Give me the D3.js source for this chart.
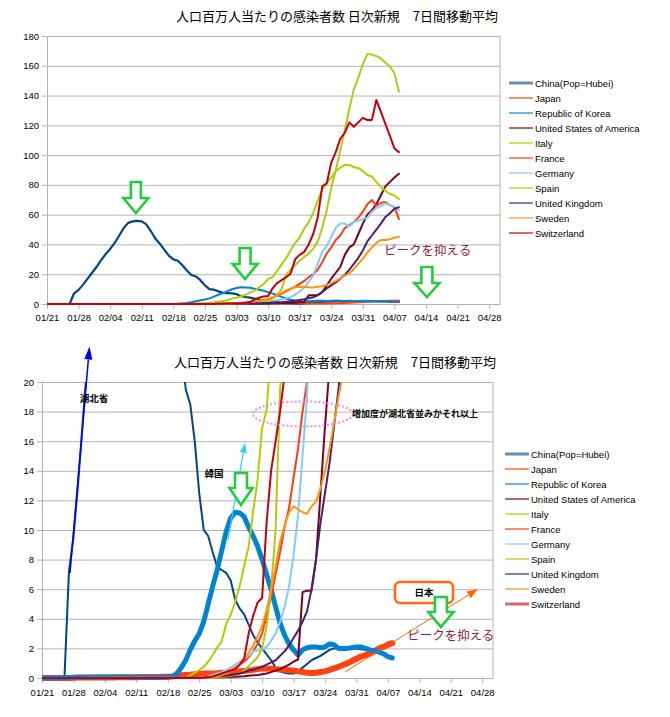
<!DOCTYPE html>
<html><head><meta charset="utf-8">
<script src="https://cdn.jsdelivr.net/npm/d3@7"></script>
<style>body{margin:0;background:#fff}svg{display:block}</style>
</head><body>
<svg id="c" width="670" height="717"></svg>
<script>
// ---------- DATA (day index 0 = 01/21 ... 78 = 04/08) ----------
const seriesNames = ["China(Pop=Hubei)","Japan","Republic of Korea","United States of America","Italy","France","Germany","Spain","United Kingdom","Sweden","Switzerland"];
const seriesColors = ["#004586","#ff420e","#0084d1","#7e0021","#aecf00","#ff3c0a","#83caff","#b4c814","#4b1f6f","#ff950e","#c5000b"];

const china = [0,0,0,0,0,0,7.2,9.5,13,17,
 21,25,29.5,33.5,37,41,46,51,54.5,55.5,
 55.8,55.5,53.5,49,44,40.5,36.5,32.5,30,29,
 26,22.5,19.5,18.5,16,12.5,10,9.6,8.5,7.5,
 7.3,7.1,6.6,5.3,4.7,4.3,3.6,2.9,2.4,2.0,
 1.6,1.2,0.7,0.45,0.35,0.3,0.3,0.45,0.7,0.95,
 1.2,1.35,1.5,1.7,1.9,2.0,2.0,2.05,2.0,2.0,
 2.0,1.95,1.9,1.85,1.8,1.7,1.6,1.5,1.45];
const japan = [0,0,0,0,0,0,0,0.02,0.03,0.03,
 0.03,0.03,0.03,0.03,0.03,0.04,0.04,0.05,0.05,0.05,
 0.05,0.05,0.06,0.06,0.06,0.07,0.07,0.08,0.08,0.1,
 0.15,0.18,0.2,0.22,0.25,0.28,0.3,0.3,0.3,0.32,
 0.35,0.38,0.4,0.42,0.45,0.48,0.5,0.55,0.6,0.65,
 0.65,0.62,0.6,0.58,0.55,0.53,0.5,0.45,0.4,0.35,
 0.34,0.35,0.4,0.45,0.55,0.65,0.75,0.88,1.0,1.15,
 1.3,1.45,1.55,1.65,1.8,2.0,2.1,2.25,2.35];
const korea = [0,0,0,0,0.02,0.03,0.03,0.04,0.05,0.05,
 0.05,0.05,0.05,0.06,0.06,0.06,0.06,0.06,0.06,0.06,
 0.05,0.05,0.05,0.04,0.04,0.04,0.04,0.05,0.06,0.1,
 0.3,0.7,1.2,1.9,2.5,3.0,3.8,5.0,6.2,7.3,
 8.6,9.9,10.8,11.2,11.15,10.9,10.2,9.6,8.9,8.0,
 7.0,6.0,4.8,3.7,2.9,2.3,1.9,1.55,1.9,2.05,
 2.1,2.1,2.05,2.1,2.3,2.25,2.0,2.0,2.0,2.05,
 2.1,2.1,2.0,1.9,1.85,1.75,1.65,1.45,1.35];
const usa = [0,0,0,0,0,0,0,0,0,0,
 0,0,0,0,0,0,0,0,0,0,
 0,0,0,0,0,0,0,0,0,0,
 0,0,0,0,0,0,0,0.01,0.02,0.03,
 0.04,0.05,0.06,0.08,0.1,0.12,0.15,0.18,0.2,0.25,
 0.3,0.4,0.5,0.6,0.75,0.9,1.1,1.25,5.8,5.9,
 5.9,8.0,12.5,17,21,25,33,38,40,47,
 54,60,63,67,73,79,82,85,87.5];
const italy = [0,0,0,0,0,0,0,0,0,0,
 0,0,0,0,0,0,0,0,0,0,
 0,0,0,0,0,0,0,0,0,0,
 0,0,0.04,0.18,0.36,0.53,0.76,1.1,1.54,2.06,
 2.48,3.64,4.27,5.15,6.19,7.58,8.86,11.25,13.4,16.9,
 18.1,22.2,26.6,30.8,36.1,41.1,44.5,50.5,55,61.3,
 69.4,76.7,81.3,85,89.1,91.5,93.6,93.4,92,91.2,
 89.4,86.6,85.6,82,78.8,76.1,73.9,72.9,70.5];
const france = [0,0,0,0,0,0,0,0,0,0,
 0,0,0,0,0.01,0.01,0.01,0.01,0.01,0.01,
 0.01,0.01,0.01,0.01,0.01,0.01,0.01,0.01,0.01,0.01,
 0.01,0.01,0.01,0.01,0.02,0.03,0.05,0.1,0.15,0.2,
 0.3,0.4,0.55,0.7,0.9,1.1,1.4,1.8,2.3,3.0,
 4.2,5.5,7.0,8.5,10.2,11.5,13.5,15.5,18,20,
 23,28,34,38,43,46,51,53,55,58,
 62,67,69.8,66,68,68.5,66.5,65,57];
const germany = [0,0,0,0,0,0,0,0,0,0,
 0,0.01,0.01,0.01,0.01,0.01,0.01,0.01,0.01,0.01,
 0.01,0.01,0.01,0.01,0.01,0.01,0.01,0.01,0.01,0.01,
 0.01,0.01,0.01,0.01,0.01,0.02,0.05,0.1,0.2,0.3,
 0.4,0.55,0.7,0.9,1.1,1.3,1.5,1.8,1.85,1.9,
 2.1,2.5,3.0,3.8,4.8,6.2,8.3,11,15,19,
 27,35,39,45,51,54,54,52,55,56,
 57,58,62,64.5,66,67.5,66.5,65,63];
const spain = [0,0,0,0,0,0,0,0,0,0,
 0,0,0,0,0,0,0,0,0,0,
 0,0,0,0,0,0,0,0,0,0,
 0,0,0,0,0,0,0,0,0.01,0.02,
 0.05,0.1,0.15,0.2,0.3,0.5,0.8,1.1,1.4,2.0,
 3.5,6.0,10.0,19.5,23,26,29,31.5,34,37,
 42,51,63,78,90,103,117,131,144,152,
 161,168,167.5,166.5,165,162,159.5,155,142.5];
const uk = [0,0,0,0,0,0,0,0,0,0,
 0,0,0,0,0,0,0,0,0,0,
 0,0,0,0,0,0,0,0,0,0.01,
 0.01,0.01,0.01,0.01,0.01,0.02,0.03,0.05,0.07,0.1,
 0.12,0.15,0.2,0.25,0.3,0.4,0.5,0.55,0.65,0.75,
 0.9,1.05,1.2,1.5,1.8,2.2,2.7,3.2,3.8,4.5,
 6,8,10.5,12.5,14.5,17,19.5,23,27,31,
 36,42,46,50,54,58.5,61,64,65];
const sweden = [0,0,0,0,0,0,0,0,0,0,
 0,0,0,0,0,0,0,0,0,0,
 0,0,0,0,0,0,0,0,0,0,
 0,0,0,0,0,0,0.01,0.02,0.05,0.1,
 0.2,0.3,0.5,0.7,0.9,1.3,1.7,2.2,2.8,3.5,
 4.6,6,7.5,9.2,10.3,11.2,11.6,11.4,11.2,11.1,
 11.6,11.9,12.8,14,15.5,17.2,19,20.5,23.5,27,
 30.5,34.5,38,41,43,43,43.5,44.5,45.2];
const switzerland = [0,0,0,0,0,0,0,0,0,0,
 0,0,0,0,0,0,0,0,0,0,
 0,0,0,0,0,0,0,0,0,0,
 0,0,0,0,0,0,0.02,0.05,0.1,0.2,
 0.3,0.4,0.5,0.6,0.9,1.3,3.0,4.2,5.1,5.4,
 10.5,14,16,18,20.5,30,33,35,40,47,
 58,79,81,95,102,111,115,122,119,122,
 125,123.5,123.5,137,129,121,113,104.5,102];

const seriesValues = [china,japan,korea,usa,italy,france,germany,spain,uk,sweden,switzerland];

const xTickLabels = ["01/21","01/28","02/04","02/11","02/18","02/25","03/03","03/10","03/17","03/24","03/31","04/07","04/14","04/21","04/28"];
const xTickDays = [0,7,14,21,28,35,42,49,56,63,70,77,84,91,98];
const yTicksTop = [0,20,40,60,80,100,120,140,160,180];
const yTicksBottom = [0,2,4,6,8,10,12,14,16,18,20];
const chartTitle = "人口百万人当たりの感染者数 日次新規　7日間移動平均";
const xMaxDay = 100.4;

// ---------- DRAWING ----------
const svg = d3.select("#c");
const LF = "'Liberation Sans', Arial, sans-serif";
const JF = "'Noto Sans CJK JP', sans-serif";
const GRID = "#b3b3b3";

function panel(o){
  const x = d3.scaleLinear().domain([0, xMaxDay]).range([o.left, o.right]);
  const y = d3.scaleLinear().domain([0, o.yMax]).range([o.bottom, o.top]);
  const g = svg.append("g");

  g.append("text").attr("x", o.titleX).attr("y", o.titleY).attr("text-anchor","middle")
    .attr("font-family", JF).attr("font-size", 13).attr("fill","#000").text(chartTitle);

  g.append("g").attr("transform",`translate(${o.left},0)`)
    .call(d3.axisLeft(y).tickValues(o.yTicks).tickSize(-(o.right-o.left)).tickFormat(""))
    .call(s=>s.select(".domain").remove())
    .call(s=>s.selectAll("line").attr("stroke",GRID));
  g.append("line").attr("x1",o.right).attr("x2",o.right).attr("y1",o.top).attr("y2",o.bottom).attr("stroke",GRID);

  g.append("g").attr("transform",`translate(${o.left},0)`)
    .call(d3.axisLeft(y).tickValues(o.yTicks).tickSize(5).tickSizeOuter(0).tickPadding(3))
    .call(s=>s.select(".domain").attr("stroke",GRID))
    .call(s=>s.selectAll("line").attr("stroke",GRID))
    .call(s=>s.selectAll("text").attr("font-family",LF).attr("font-size",9.5).attr("fill","#000"));
  g.append("g").attr("transform",`translate(0,${o.bottom})`)
    .call(d3.axisBottom(x).tickValues(xTickDays).tickFormat((d,i)=>xTickLabels[i]).tickSize(5).tickSizeOuter(0).tickPadding(o.xPad))
    .call(s=>s.select(".domain").attr("stroke",GRID))
    .call(s=>s.selectAll("line").attr("stroke",GRID))
    .call(s=>s.selectAll("text").attr("font-family",LF).attr("font-size",9.5).attr("fill","#000"));

  const cid = "clip"+o.id;
  svg.append("defs").append("clipPath").attr("id",cid).append("rect")
    .attr("x",o.left).attr("y",o.top).attr("width",o.right-o.left).attr("height",o.bottom-o.top+6);

  const line = d3.line().x((d,i)=>x(i)).y(d=>y(d)).curve(d3.curveLinear);
  const lg = g.append("g").attr("clip-path",`url(#${cid})`);
  o.order.forEach(k=>{
    lg.append("path").datum(seriesValues[k]).attr("d",line)
      .attr("fill","none").attr("stroke",seriesColors[k])
      .attr("stroke-width",o.widths[k]).attr("stroke-linejoin","round").attr("stroke-linecap","round");
  });

  const leg = g.append("g");
  seriesNames.forEach((n,i)=>{
    const yy = o.legY + i*15;
    leg.append("line").attr("x1",o.legX).attr("x2",o.legX+24).attr("y1",yy).attr("y2",yy)
      .attr("stroke",seriesColors[i]).attr("stroke-width",o.legW[i]).attr("stroke-opacity",0.6);
    leg.append("text").attr("x",o.legX+26).attr("y",yy+3.5).attr("font-family",LF)
      .attr("font-size",9.5).attr("fill","#000").text(n);
  });
  return {x,y,g};
}

function blockArrow(g,cx,ty,sy,tip,sw,hw){
  const p = `M${cx-sw},${ty}L${cx+sw},${ty}L${cx+sw},${sy}L${cx+hw},${sy}L${cx},${tip}L${cx-hw},${sy}L${cx-sw},${sy}Z`;
  g.append("path").attr("d",p).attr("fill","#fff").attr("stroke","#22cc3c").attr("stroke-width",2.6).attr("stroke-linejoin","miter");
}
function arrowLine(g,x1,y1,x2,y2,color,w,hl,hh){
  const dx=x2-x1, dy=y2-y1, L=Math.hypot(dx,dy), ux=dx/L, uy=dy/L;
  const bx=x2-ux*hl, by=y2-uy*hl;
  g.append("line").attr("x1",x1).attr("y1",y1).attr("x2",bx).attr("y2",by).attr("stroke",color).attr("stroke-width",w);
  g.append("path").attr("d",`M${x2},${y2}L${bx-uy*hh},${by+ux*hh}L${bx+uy*hh},${by-ux*hh}Z`).attr("fill",color);
}

// top panel
const wTop = [2.2,2,2,2,2,2,2,2,2,2,2];
const T = panel({id:"t", left:47, right:500, top:36, bottom:304, yMax:180, yTicks:yTicksTop,
  titleX:337, titleY:21, xPad:5, order:[0,1,2,3,4,5,6,7,8,9,10], widths:wTop,
  legX:509, legY:83, legW:[3,2,2,2,2,2,2,2,2,2,2]});
{
  const a = T.g.append("g"), x=T.x, y=T.y;
  blockArrow(a, x(19.7), y(81.9), y(71.2), y(61.1), 5, 12.5);
  blockArrow(a, x(43.9), y(37.6), y(26.9), y(16.8), 5.5, 12.5);
  blockArrow(a, x(84.2), y(24.9), y(14.1), y(4.7), 5.5, 12.5);
  a.append("text").attr("x",x(74.7)).attr("y",y(32.9)).attr("font-family",JF).attr("font-size",12.5)
    .attr("fill","#8b1a3c").text("ピークを抑える");
}

// bottom panel
const wBot = [2,6,5,2,2,2,2,2,2,2,2];
const B = panel({id:"b", left:42, right:493, top:382, bottom:678, yMax:20, yTicks:yTicksBottom,
  titleX:335, titleY:367, xPad:6, order:[0,1,2,3,4,5,6,7,8,9,10], widths:wBot,
  legX:505, legY:454, legW:[3,2,2,2,2,2,2,2,2,2,3]});
{
  const a = B.g.append("g"), x=B.x, y=B.y;
  arrowLine(a, x(6.23), y(7.09), x(10.57), y(22.4), "#0000ff", 1.5, 13, 4);
  a.append("text").attr("x",x(11.58)).attr("y",y(18.65)).attr("text-anchor","middle").attr("font-family",JF)
    .attr("font-size",9.5).attr("font-weight","bold").text("湖北省");
  a.append("text").attr("x",x(38.3)).attr("y",y(13.6)).attr("text-anchor","middle").attr("font-family",JF)
    .attr("font-size",9.5).attr("font-weight","bold").text("韓国");
  arrowLine(a, x(41.4), y(9.32), x(45.2), y(15.9), "#33ccff", 1.2, 10, 3.5);
  blockArrow(a, x(44.3), y(13.85), y(12.84), y(11.69), 6, 11.5);
  a.append("ellipse").attr("cx",x(58.1)).attr("cy",y(17.84)).attr("rx",50).attr("ry",12.5)
    .attr("fill","none").attr("stroke","#ee88ee").attr("stroke-width",2).attr("stroke-dasharray","2,2");
  a.append("text").attr("x",x(69.0)).attr("y",y(17.64)).attr("font-family",JF).attr("font-size",9)
    .attr("font-weight","bold").text("増加度が湖北省並みかそれ以上");
  arrowLine(a, x(67.45), y(0.405), x(97.06), y(6.01), "#ff6600", 1, 11, 4);
  a.append("rect").attr("x",x(85.04)-29).attr("y",y(5.78)-10.5).attr("width",58).attr("height",21).attr("rx",5)
    .attr("fill","#fff").attr("stroke","#ff6a13").attr("stroke-width",2.5);
  a.append("text").attr("x",x(85.04)).attr("y",y(5.78)+3.5).attr("text-anchor","middle").attr("font-family",JF)
    .attr("font-size",9.5).attr("font-weight","bold").text("日本");
  blockArrow(a, x(88.8), y(5.47), y(4.46), y(3.45), 6, 12.5);
  a.append("text").attr("x",x(81.3)).attr("y",y(2.57)).attr("font-family",JF).attr("font-size",12.5)
    .attr("fill","#8b1a3c").text("ピークを抑える");
}
</script>
</body></html>
